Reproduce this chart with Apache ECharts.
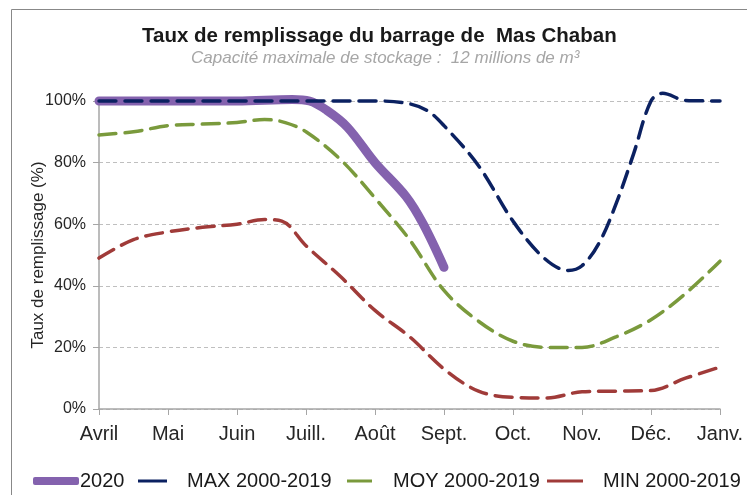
<!DOCTYPE html>
<html lang="fr">
<head>
    <meta charset="UTF-8">
    <script src="https://cdn.jsdelivr.net/npm/echarts@6/dist/echarts.min.js"></script>
    <style>
        * { margin: 0; padding: 0; }
        body { background: #fff; }
        #chart { width: 747px; height: 495px; }
    </style>
    <title>Mas Chaban</title>
</head>
<body>
<div id="chart"></div>
<script>
    // mois de l'axe x (position 0 = Avril)
    var mois = ['Avril', 'Mai', 'Juin', 'Juill.', 'Août', 'Sept.', 'Oct.', 'Nov.', 'Déc.', 'Janv.'];

    // [position du mois, taux de remplissage %]
    var annee2020 = [[0, 100], [1, 100], [2, 100], [2.8, 100.5], [3.05, 100], [3.3, 97], [3.6, 91.5], [4, 80], [4.45, 69], [4.7, 60], [5, 46]];
    var max2000 = [[0, 100], [1, 100], [2, 100], [3, 100], [4, 100], [4.45, 99.3], [4.75, 97], [5, 92], [5.5, 79], [6, 61], [6.45, 49], [6.8, 45], [7, 46.5], [7.25, 54], [7.5, 67], [7.75, 83], [8, 100], [8.17, 102.5], [8.5, 100.2], [9, 100]];
    var moy2000 = [[0, 89], [0.5, 90], [1, 92], [1.5, 92.5], [2, 93], [2.4, 94], [2.7, 93], [3, 90], [3.5, 81], [4, 68.5], [4.5, 55], [5, 38.5], [5.5, 28.5], [6, 22], [6.5, 20], [7, 20], [7.5, 23.5], [8, 29], [8.5, 37.5], [9, 48]];
    var min2000 = [[0, 49], [0.5, 55], [1, 57.5], [1.5, 59], [2, 60], [2.4, 61.5], [2.65, 61], [3, 53], [3.5, 43], [4, 32], [4.5, 23.5], [5, 13], [5.5, 5.8], [6, 3.8], [6.5, 3.6], [7, 5.6], [7.5, 5.8], [8, 6], [8.5, 10], [9, 13.6]];

    var yTicks = [0, 20, 40, 60, 80, 100];

    var myChart = echarts.init(document.getElementById('chart'));

    var dash = {
        type: [17, 9],
        width: 3.5,
        cap: 'round'
    };

    // une légende par série pour placer chaque entrée
    function legende(nom, left, w, h, icon, pad) {
        return {
            data: [nom],
            left: left,
            top: 471,
            padding: 0,
            icon: icon,
            itemWidth: w,
            itemHeight: h,
            textStyle: { fontSize: 20, color: '#1a1a1a', padding: [0, 0, 0, pad] }
        };
    }

    var option = {
        animation: false,
        textStyle: { fontFamily: 'Liberation Sans' },
        title: [{
            text: 'Taux de remplissage du barrage de  Mas Chaban',
            left: 142,
            top: 26,
            padding: 0,
            textStyle: { fontSize: 20.5, fontWeight: 'bold', color: '#1a1a1a' }
        }, {
            text: 'Capacité maximale de stockage :  12 millions de m³',
            left: 191,
            top: 50,
            padding: 0,
            textStyle: { fontSize: 17, fontStyle: 'italic', fontWeight: 'normal', color: '#a6a6a6' }
        }],
        graphic: [{
            type: 'rect',
            shape: { x: 11.5, y: 9.5, width: 800, height: 600 },
            style: { fill: 'none', stroke: '#888', lineWidth: 1 },
            silent: true
        }],
        grid: { left: 99, right: 27, top: 101, bottom: 86 },
        legend: [
            legende('2020', 33, 46, 8, 'roundRect', -4),
            legende('MAX 2000-2019', 138, 29, 3, 'rect', 15),
            legende('MOY 2000-2019', 347, 25, 3, 'rect', 16),
            legende('MIN 2000-2019', 547, 36, 3, 'rect', 15)
        ],
        xAxis: {
            type: 'value',
            min: 0,
            max: 9,
            interval: 1,
            axisLine: { lineStyle: { color: '#a6a6a6', width: 1.5 } },
            axisTick: { show: true, length: 6, lineStyle: { color: '#a6a6a6' } },
            axisLabel: {
                fontSize: 20,
                color: '#262626',
                margin: 15,
                formatter: function (v) { return mois[v]; }
            },
            splitLine: { show: false }
        },
        yAxis: {
            type: 'value',
            min: 0,
            max: 100,
            interval: 20,
            name: 'Taux de remplissage (%)',
            nameLocation: 'middle',
            nameGap: 52,
            nameMoveOverlap: false,
            nameTextStyle: { fontSize: 17, color: '#262626' },
            axisLine: { show: true, lineStyle: { color: '#a6a6a6', width: 1.5 } },
            axisTick: { show: true, length: 6, lineStyle: { color: '#a6a6a6' } },
            axisLabel: {
                fontSize: 16,
                color: '#262626',
                margin: 13,
                formatter: function (v) { return yTicks.indexOf(v) >= 0 ? v + '%' : ''; }
            },
            splitLine: { show: true, lineStyle: { color: '#bfbfbf', type: [4, 3] } }
        },
        series: [{
            name: '2020',
            type: 'line',
            data: annee2020,
            smooth: 0.35,
            showSymbol: false,
            clip: false,
            color: '#8462AE',
            lineStyle: { width: 9, cap: 'round', color: '#8462AE' }
        }, {
            name: 'MAX 2000-2019',
            type: 'line',
            data: max2000,
            smooth: 0.35,
            showSymbol: false,
            clip: false,
            color: '#0B2161',
            lineStyle: Object.assign({}, dash, { color: '#0B2161' })
        }, {
            name: 'MOY 2000-2019',
            type: 'line',
            data: moy2000,
            smooth: 0.35,
            showSymbol: false,
            clip: false,
            color: '#7A9A3C',
            lineStyle: Object.assign({}, dash, { color: '#7A9A3C' })
        }, {
            name: 'MIN 2000-2019',
            type: 'line',
            data: min2000,
            smooth: 0.35,
            showSymbol: false,
            clip: false,
            color: '#A03B39',
            lineStyle: Object.assign({}, dash, { color: '#A03B39' })
        }]
    };

    myChart.setOption(option);
</script>
</body>
</html>
